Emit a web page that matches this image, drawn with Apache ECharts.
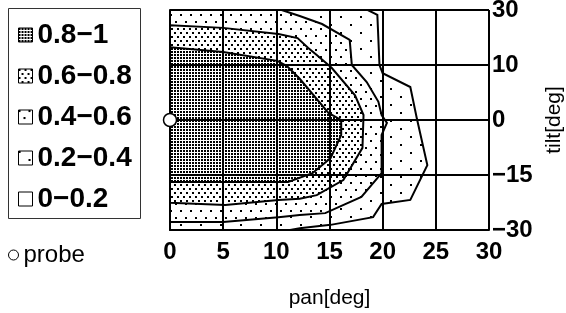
<!DOCTYPE html>
<html>
<head>
<meta charset="utf-8">
<script src="https://cdn.jsdelivr.net/npm/echarts@6/dist/echarts.min.js"></script>
<style>
  html, body { margin: 0; padding: 0; background: #fff; }
  #chart { width: 566px; height: 313px; }
</style>
</head>
<body>
<div id="chart"></div>
<script>
// axis ticks (tilt axis has equal spacing between uneven tick values)
var panTicks = [0, 5, 10, 15, 20, 25, 30];
var tiltTicks = [-30, -15, 0, 10, 30];
var tiltLabels = ['\u221230', '\u221215', '0', '10', '30'];
var levels = ['0.8\u22121', '0.6\u22120.8', '0.4\u22120.6', '0.2\u22120.4', '0\u22120.2'];

// contour regions, [pan, tilt] in degrees
var region00 = [[0, 30], [30, 30], [30, -30], [0, -30]];
var region02 = [[0, 30], [18.6, 30], [19.5, 28.2], [19.7, 10], [20.0, 8.5], [22.6, 6], [23.2, 0.4],
  [24.2, -12.3], [22.6, -21.8], [19.9, -22.9], [19.1, -26.5], [15.1, -28.6], [12.2, -29.5],
  [11.3, -30], [0, -30]];
var region04 = [[0, 30], [10.5, 30], [12.2, 27.8], [14.3, 24.9], [16.9, 19.1], [17.1, 10], [18.5, 6.9],
  [19.6, 3.3], [19.9, 0.9], [20.4, -0.8], [19.9, -4.1], [19.9, -14.5], [18.0, -21], [14.6, -25.4],
  [12.2, -25.9], [10.2, -26.5], [5.0, -27.8], [0, -27.8]];
var region06 = [[0, 24.5], [5.0, 23.5], [10.2, 21.3], [12.0, 19.8], [13.0, 16.2], [13.8, 13.6],
  [15.2, 9.5], [17.4, 4.5], [18.2, 0.9], [18.1, -7.6], [16.3, -16.4], [13.8, -20.5], [12.2, -21.5],
  [10.2, -21.8], [5.2, -23.2], [0, -22.6]];
var region08 = [[0, 16.5], [5.0, 14.7], [10.1, 11.5], [11.0, 9.8], [12.2, 7.5], [14.9, 1.3], [16.1, 0],
  [16.1, -4.1], [15.1, -10.4], [13.4, -14.5], [11.1, -16.9], [5.0, -16.9], [0, -16.9]];
var probe = [[0, 0]];

var font = "'Liberation Sans', Arial, sans-serif";

function tiltPos(t) {
    for (var i = 0; i < tiltTicks.length - 1; i++) {
        if (t <= tiltTicks[i + 1]) {
            return i + (t - tiltTicks[i]) / (tiltTicks[i + 1] - tiltTicks[i]);
        }
    }
    return tiltTicks.length - 1;
}

// dotted fill tiles
function dots(w, h, pts, s) {
    var c = document.createElement('canvas');
    c.width = w;
    c.height = h;
    var ctx = c.getContext('2d');
    ctx.fillStyle = '#fff';
    ctx.fillRect(0, 0, w, h);
    ctx.fillStyle = '#000';
    pts.forEach(function(p) { ctx.fillRect(p[0], p[1], s, s); });
    return { image: c, repeat: 'repeat' };
}

var fills = [
    dots(3, 3, [[0, 0]], 2),
    dots(6, 8, [[0, 0], [3, 4]], 2),
    dots(10, 14, [[0, 0], [5, 7]], 2),
    dots(20, 16, [[0, 0], [10, 8]], 2),
    '#fff'
];

function regionSeries(name, pts, fill, stroke) {
    return {
        type: 'custom',
        name: name,
        coordinateSystem: 'cartesian2d',
        z: 2,
        clip: true,
        data: [[0, 0]],
        itemStyle: { color: fill, borderColor: '#000', borderWidth: 1 },
        renderItem: function(params, api) {
            return {
                type: 'polygon',
                shape: { points: pts.map(function(p) { return api.coord([p[0], tiltPos(p[1])]); }) },
                style: { fill: fill, stroke: stroke ? '#000' : null, lineWidth: 2 }
            };
        }
    };
}

var myChart = echarts.init(document.getElementById('chart'));
var option = {
    backgroundColor: '#fff',
    animation: false,
    grid: { left: 170, right: 77, top: 10, bottom: 83, outerBoundsMode: 'none', containLabel: false },
    graphic: [{
        type: 'rect',
        shape: { x: 8.5, y: 8.5, width: 132, height: 210 },
        style: { fill: null, stroke: '#333', lineWidth: 1 }
    }],
    legend: [{
        data: levels,
        orient: 'vertical',
        left: 8,
        top: 8,
        padding: [12, 4, 6, 10],
        icon: 'rect',
        itemWidth: 14,
        itemHeight: 14,
        itemGap: 11,
        selectedMode: false,
        itemStyle: { borderColor: '#000', borderWidth: 1 },
        textStyle: { fontFamily: font, fontSize: 28, fontWeight: 'bold', lineHeight: 30, color: '#000' }
    }, {
        data: ['probe'],
        orient: 'vertical',
        left: 8,
        top: 243,
        padding: 0,
        icon: 'circle',
        itemWidth: 10,
        itemHeight: 10,
        selectedMode: false,
        itemStyle: { color: '#fff', borderColor: '#000', borderWidth: 1 },
        textStyle: { fontFamily: font, fontSize: 24, color: '#000', padding: [14, 0, 0, 0] }
    }],
    xAxis: {
        type: 'value',
        min: 0,
        max: 30,
        interval: 5,
        z: 10,
        name: 'pan[deg]',
        nameLocation: 'middle',
        nameGap: 58,
        nameTextStyle: { fontFamily: font, fontSize: 21, color: '#000' },
        axisLine: { show: true, lineStyle: { color: '#000', width: 2 } },
        axisTick: { show: false },
        axisLabel: { fontFamily: font, fontSize: 24, fontWeight: 'bold', color: '#000', margin: 10 },
        splitLine: { show: true, lineStyle: { color: '#000', width: 2 } }
    },
    yAxis: {
        type: 'value',
        position: 'right',
        min: 0,
        max: 4,
        interval: 1,
        z: 10,
        name: 'tilt[deg]',
        nameLocation: 'middle',
        nameRotate: 90,
        nameGap: 54,
        nameTextStyle: { fontFamily: font, fontSize: 21, color: '#000' },
        axisLine: { show: true, lineStyle: { color: '#000', width: 2 } },
        axisTick: { show: false },
        axisLabel: {
            fontFamily: font, fontSize: 24, fontWeight: 'bold', color: '#000', margin: 3,
            formatter: function(v) { return tiltLabels[v]; }
        },
        splitLine: { show: true, lineStyle: { color: '#000', width: 2 } }
    },
    series: [
        regionSeries(levels[4], region00, fills[4], false),
        regionSeries(levels[3], region02, fills[3], true),
        regionSeries(levels[2], region04, fills[2], true),
        regionSeries(levels[1], region06, fills[1], true),
        regionSeries(levels[0], region08, fills[0], true),
        {
            type: 'scatter',
            name: 'probe',
            z: 20,
            clip: false,
            symbol: 'circle',
            symbolSize: 13,
            itemStyle: { color: '#fff', borderColor: '#000', borderWidth: 1.5, opacity: 1 },
            data: probe.map(function(p) { return [p[0], tiltPos(p[1])]; })
        }
    ]
};
myChart.setOption(option);

window.onresize = function() {
    myChart.resize();
};
</script>
</body>
</html>
